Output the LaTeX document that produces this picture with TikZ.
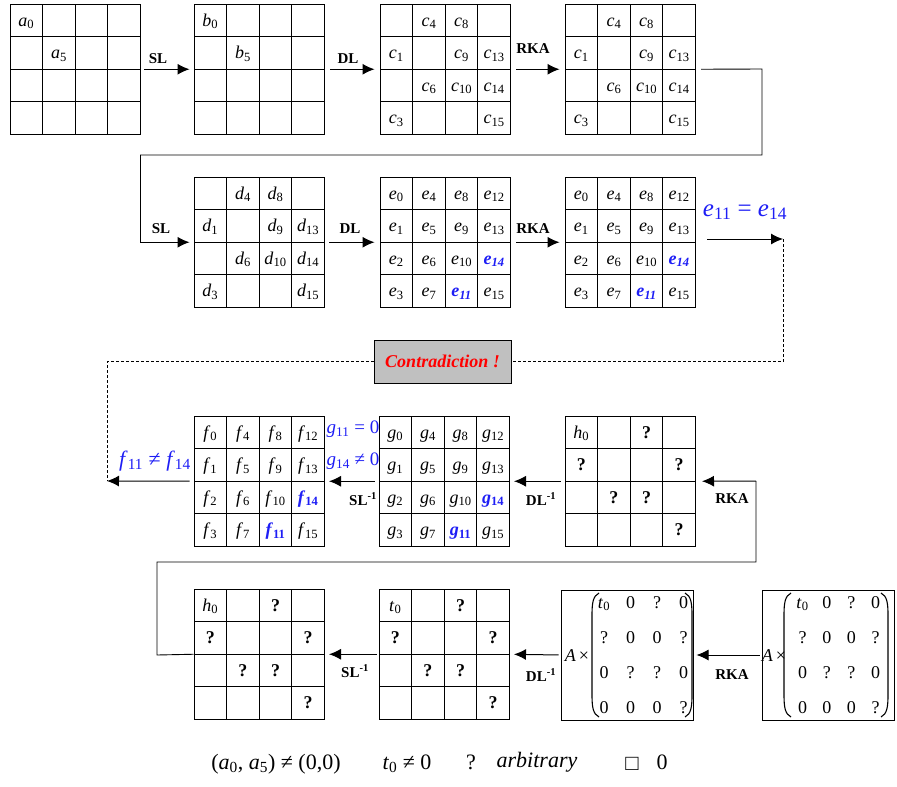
\documentclass[tikz,border=0pt]{standalone}
\usepackage{fontspec}
\setmainfont{Liberation Serif}
\usetikzlibrary{arrows.meta,calc}
\definecolor{myblue}{RGB}{30,30,245}
\definecolor{boxgray}{RGB}{192,192,192}
\newcommand{\vr}[2]{\textit{#1}\textsubscript{#2}}
\newcommand{\hlE}[2]{\textcolor{myblue}{\textbf{\textit{#1\textsubscript{#2}}}}}
\newcommand{\hlF}[2]{\textcolor{myblue}{\textbf{\textit{#1}\textsubscript{#2}}}}
\newcommand{\qm}{\textbf{?}}
\newcommand{\mkgrid}[3]{%
  \node[gbox] (#1) at (#2+65.25,#3+65.25) {};
  \foreach \k in {1,2,3}{%
    \draw[gline] (#2+\k*32.625,#3) -- ++(0,130.5);
    \draw[gline] (#2,#3+\k*32.625) -- ++(130.5,0);}}
\newcommand{\cells}[3]{%
  \foreach \i/\ct in {#3}{%
    \pgfmathtruncatemacro\cc{\i/4}%
    \pgfmathtruncatemacro\rr{mod(\i,4)}%
    \node[ctext] at (#1+16.31+\cc*32.625,#2+22+\rr*32.625) {\ct};}}
\newcommand{\fullcells}[4]{%
  \foreach \i in {0,...,15}{%
    \pgfmathtruncatemacro\cc{\i/4}%
    \pgfmathtruncatemacro\rr{mod(\i,4)}%
    \ifnum\i=11 \def\ct{#4{#3}{\i}}\else\ifnum\i=14 \def\ct{#4{#3}{\i}}\else\def\ct{\vr{#3}{\i}}\fi\fi
    \node[ctext] at (#1+16.31+\cc*32.625,#2+22+\rr*32.625) {\ct};}}
% name, box left, A offset, left paren offset, first col offset, col step, right paren offset
\newcommand{\amat}[7]{%
  \node[mbox] (#1) at (#2+66,655) {};
  \node[mtext] at (#2+#3,661) {\textit{A}\,×};
  \draw[paren] (#2+#4+7,593) .. controls (#2+#4+1,596) and (#2+#4,603) .. (#2+#4,615)
     -- (#2+#4,695) .. controls (#2+#4,707) and (#2+#4+1,714) .. (#2+#4+7,717);
  \draw[paren] (#2+#7-7,593) .. controls (#2+#7-1,596) and (#2+#7,603) .. (#2+#7,615)
     -- (#2+#7,695) .. controls (#2+#7,707) and (#2+#7-1,714) .. (#2+#7-7,717);
  \foreach \r/\ea/\eb/\ec/\ed in {0/\vr{t}{0}/0/?/0,1/?/0/0/?,2/0/?/?/0,3/0/0/0/?}{%
    \node[mtext] at (#2+#5,608+35.3*\r) {\ea};
    \node[mtext] at (#2+#5+#6,608+35.3*\r) {\eb};
    \node[mtext] at (#2+#5+2*#6,608+35.3*\r) {\ec};
    \node[mtext] at (#2+#5+3*#6,608+35.3*\r) {\ed};}}
\begin{document}
\begin{tikzpicture}[x=1pt,y=-1pt,
  gbox/.style={draw, line width=1pt, minimum width=130.5pt, minimum height=130.5pt, inner sep=0pt},
  gline/.style={line width=0.9pt},
  ctext/.style={font=\fontsize{18}{20}\selectfont, inner sep=0pt, anchor=base},
  mtext/.style={font=\fontsize{18}{20}\selectfont, inner sep=0pt, anchor=base},
  mbox/.style={draw, line width=1pt, minimum width=132pt, minimum height=130pt, inner sep=0pt},
  paren/.style={line width=1.1pt},
  arr/.style={line width=1pt, -{Latex[length=12pt,width=11pt]}},
  conn/.style={line width=0.9pt},
  dconn/.style={line width=0.8pt, dash pattern=on 3pt off 2pt},
  oplabel/.style={font=\fontsize{15}{17}\selectfont\bfseries, inner sep=0pt},
  bluelabel/.style={text=myblue, inner sep=0pt},
  legend/.style={font=\fontsize{22}{24}\selectfont, inner sep=0pt}]
\useasboundingbox (0,0) rectangle (897,787);
% ---------- row 1
\mkgrid{A}{10}{4}
\cells{10}{4}{0/\vr{a}{0},5/\vr{a}{5}}
\mkgrid{B}{194}{4}
\cells{194}{4}{0/\vr{b}{0},5/\vr{b}{5}}
\mkgrid{C}{380}{4}
\cells{380}{4}{4/\vr{c}{4},8/\vr{c}{8},1/\vr{c}{1},9/\vr{c}{9},13/\vr{c}{13},6/\vr{c}{6},10/\vr{c}{10},14/\vr{c}{14},3/\vr{c}{3},15/\vr{c}{15}}
\mkgrid{D}{565}{4}
\cells{565}{4}{4/\vr{c}{4},8/\vr{c}{8},1/\vr{c}{1},9/\vr{c}{9},13/\vr{c}{13},6/\vr{c}{6},10/\vr{c}{10},14/\vr{c}{14},3/\vr{c}{3},15/\vr{c}{15}}
\draw[arr, shorten <=3pt, shorten >=4pt] (A.east) -- (B.west);
\draw[arr, shorten <=5pt, shorten >=5pt] (B.east) -- (C.west);
\draw[arr, shorten <=5pt, shorten >=5pt] (C.east) -- (D.west);
\node[oplabel] at (158,59) {SL};
\node[oplabel] at (348,59) {DL};
\node[oplabel] at (533,49) {RKA};
% ---------- row 2
\mkgrid{d}{194}{177}
\cells{194}{177}{4/\vr{d}{4},8/\vr{d}{8},1/\vr{d}{1},9/\vr{d}{9},13/\vr{d}{13},6/\vr{d}{6},10/\vr{d}{10},14/\vr{d}{14},3/\vr{d}{3},15/\vr{d}{15}}
\mkgrid{e}{380}{177}
\fullcells{380}{177}{e}{\hlE}
\mkgrid{e2}{565}{177}
\fullcells{565}{177}{e}{\hlE}
\coordinate (r1a) at (762,69);
\coordinate (r1b) at (762,155);
\coordinate (r1c) at (140,155);
\draw[conn] ([xshift=5pt]D.east) -- (r1a) -- (r1b) -- (r1c);
\draw[arr, shorten >=4pt] (r1c) |- (d.west);
\draw[arr, shorten <=4pt, shorten >=5pt] (d.east) -- (e.west);
\draw[arr, shorten <=5pt, shorten >=5pt] (e.east) -- (e2.west);
\node[oplabel] at (161,229) {SL};
\node[oplabel] at (350,229) {DL};
\node[oplabel] at (533,229) {RKA};
\node[bluelabel, font=\fontsize{25}{27}\selectfont] at (745,212) {\textit{e}\textsubscript{11} = \textit{e}\textsubscript{14}};
\coordinate (q0) at (707,239);
\coordinate (q1) at (783,239);
\draw[arr] (q0) -- (q1);
% contradiction
\node[draw, fill=boxgray, line width=1pt, minimum width=137pt, minimum height=43pt, inner sep=0pt,
  font=\fontsize{18}{20}\selectfont\bfseries\itshape, text=red] (contra) at (442.5,361.5) {Contradiction !};
\coordinate (q3) at (107,481);
\draw[dconn] (q1) |- (contra.east);
\draw[dconn] (contra.west) -| (q3);
% ---------- row 3
\mkgrid{f}{194}{416}
\fullcells{194}{416}{f}{\hlF}
\mkgrid{g}{379}{416}
\fullcells{379}{416}{g}{\hlF}
\mkgrid{h}{565}{416}
\cells{565}{416}{0/\vr{h}{0},8/\qm,1/\qm,13/\qm,6/\qm,10/\qm,15/\qm}
\draw[arr, shorten <=4pt] (f.west) -- (q3);
\draw[arr, shorten <=4pt, shorten >=4pt] (g.west) -- (f.east);
\draw[arr, shorten <=4pt, shorten >=4pt] (h.west) -- (g.east);
\node[bluelabel, font=\fontsize{22}{24}\selectfont] at (155,461) {\textit{f}\textsubscript{11} ≠ \textit{f}\textsubscript{14}};
\node[bluelabel, font=\fontsize{19}{21}\selectfont] at (353,429) {\textit{g}\textsubscript{11} = 0};
\node[bluelabel, font=\fontsize{19}{21}\selectfont] at (353,461) {\textit{g}\textsubscript{14} ≠ 0};
\node[oplabel] at (363,499) {SL\textsuperscript{-1}};
\node[oplabel] at (541,499) {DL\textsuperscript{-1}};
\node[oplabel] at (732,499) {RKA};
% ---------- row 4
\mkgrid{h2}{194}{589}
\cells{194}{589}{0/\vr{h}{0},8/\qm,1/\qm,13/\qm,6/\qm,10/\qm,15/\qm}
\mkgrid{t}{379}{589}
\cells{379}{589}{0/\vr{t}{0},8/\qm,1/\qm,13/\qm,6/\qm,10/\qm,15/\qm}
\amat{M1}{561}{16}{31}{43}{26.5}{131}
\amat{M2}{762}{12}{22}{40.5}{24.4}{126}
\draw[arr, shorten <=2pt, shorten >=4pt] (t.west) -- (h2.east);
\draw[arr, shorten <=2pt, shorten >=4pt] (M1.west) -- (t.east);
\draw[arr, shorten <=2pt, shorten >=3pt] (M2.west) -- (M1.east);
\node[oplabel] at (355,671) {SL\textsuperscript{-1}};
\node[oplabel] at (541,675) {DL\textsuperscript{-1}};
\node[oplabel] at (732,675) {RKA};
% connector row 4 -> row 3
\coordinate (s1) at (157,655);
\coordinate (s2) at (157,562);
\coordinate (s3) at (756,562);
\coordinate (s4) at (756,481);
\draw[conn] (h2.west) -- (s1) -- (s2) -- (s3) -- (s4);
\draw[arr, shorten >=6pt] (s4) -- (h.east);
% ---------- legend
\node[legend] at (276,764) {(\textit{a}\textsubscript{0}, \textit{a}\textsubscript{5}) ≠ (0,0)};
\node[legend] at (407,764) {\textit{t}\textsubscript{0} ≠ 0};
\node[legend] at (471,762) {?};
\node[legend] at (537,762) {\textit{arbitrary}};
\node[legend] at (632,764) {□};
\node[legend] at (662,762) {0};
\end{tikzpicture}
\end{document}
